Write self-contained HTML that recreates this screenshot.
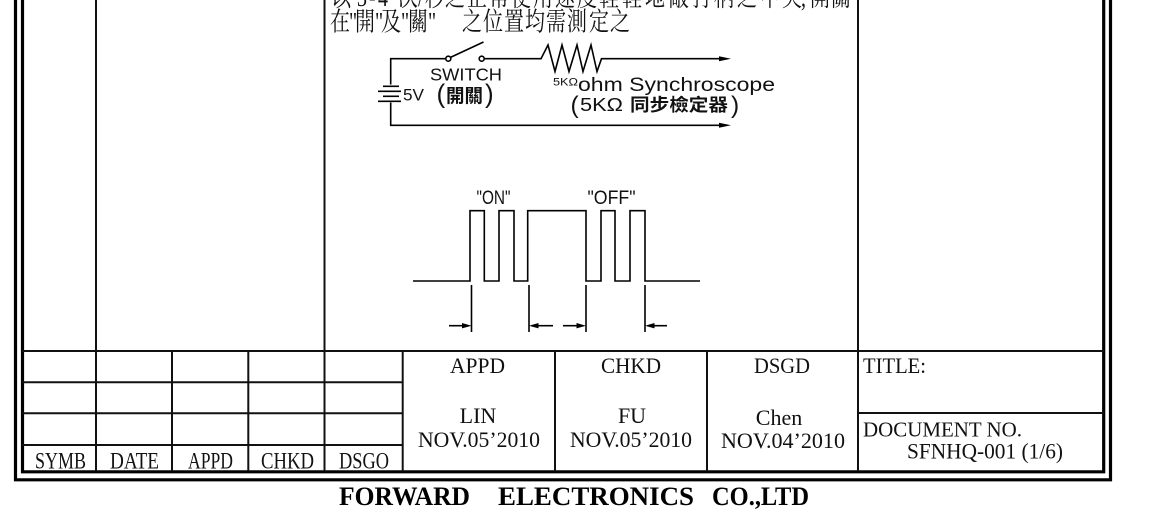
<!DOCTYPE html>
<html><head><meta charset="utf-8">
<style>
html,body{margin:0;padding:0;background:#fff;}
svg{display:block;}
</style></head><body>
<svg width="1150" height="518" viewBox="0 0 1150 518" xmlns="http://www.w3.org/2000/svg">
<rect width="1150" height="518" fill="#fff"/>

<!-- double frame -->
<g fill="none" stroke="#000">
  <path d="M15.5,-2 V479.8 H1110.5 V-2" stroke-width="3.2"/>
  <path d="M22.5,-2 V471.8 H1103.7 V-2" stroke-width="3.2"/>
</g>

<!-- grid lines -->
<g stroke="#111" stroke-width="2" fill="none">
  <line x1="96" y1="0" x2="96" y2="471"/>
  <line x1="324.5" y1="0" x2="324.5" y2="471"/>
  <line x1="858" y1="0" x2="858" y2="471"/>
  <line x1="22" y1="351" x2="1104" y2="351"/>
  <line x1="22" y1="382.3" x2="403" y2="382.3"/>
  <line x1="22" y1="413.3" x2="403" y2="413.3"/>
  <line x1="858" y1="413" x2="1104" y2="413"/>
  <line x1="22" y1="445" x2="403" y2="445"/>
  <line x1="172" y1="351" x2="172" y2="471"/>
  <line x1="248.3" y1="351" x2="248.3" y2="471"/>
  <line x1="402.7" y1="351" x2="402.7" y2="471"/>
  <line x1="555" y1="351" x2="555" y2="471"/>
  <line x1="707" y1="351" x2="707" y2="471"/>
</g>

<!-- top Chinese text -->
<g font-family="'Liberation Serif','Noto Serif CJK SC',serif" font-size="20" fill="#111">
  <text transform="translate(0,6) scale(1,1.3)" y="0"
    x="331 357 369 378 398 418 425 445 467 489 511 533 555 577 599 622 645 669 692 714 737 760 782 801 810 831">以3-4次/秒之正常使用速度輕輕地敲打柄之中央,開關</text>
  <text transform="translate(0,30.5) scale(1,1.3)" y="0"
    x="330 349 355 375 381 401 408 428 462 483 504 525 546 567 589 610">在"開"及"關"之位置均需測定之</text>
</g>

<!-- circuit -->
<g stroke="#000" stroke-width="1.6" fill="none" stroke-linejoin="miter">
  <path d="M446,58.7 H390.7 V84.5"/>
  <path d="M484.2,58.7 H541 L548,45 L555,71.5 L562,45 L569,71.5 L577,45 L583,71.5 L591,45 L597,71.5 L601.5,58.7 H722"/>
  <path d="M390.7,102.5 V125.3 H722"/>
  <circle cx="448.3" cy="58.7" r="2.5"/>
  <circle cx="481.7" cy="58.7" r="2.5"/>
  <line x1="450.5" y1="57.4" x2="483.5" y2="42"/>
  <line x1="383" y1="86.3" x2="399" y2="86.3"/>
  <line x1="378" y1="91.3" x2="401" y2="91.3"/>
  <line x1="383" y1="96.3" x2="399" y2="96.3"/>
  <line x1="378" y1="101.3" x2="401" y2="101.3"/>
</g>
<g fill="#000">
  <path d="M719,56.2 L731,58.7 L719,61.2Z"/>
  <path d="M719,122.8 L731,125.3 L719,127.8Z"/>
</g>
<g font-family="'Liberation Sans','Noto Sans CJK TC',sans-serif" fill="#111">
  <text x="430" y="80.5" font-size="17.5" textLength="72" lengthAdjust="spacingAndGlyphs">SWITCH</text>
  <text x="403" y="100.5" font-size="17" textLength="21" lengthAdjust="spacingAndGlyphs">5V</text>
  <text x="436.5" y="102.5" font-size="26">(</text>
  <text x="446" y="102.5" font-size="18.5" font-weight="bold" textLength="37" lengthAdjust="spacingAndGlyphs">開關</text>
  <text x="485" y="102.5" font-size="26">)</text>
  <text x="553" y="85.5" font-size="11" textLength="25" lengthAdjust="spacingAndGlyphs">5KΩ</text>
  <text x="578" y="91" font-size="19.5" textLength="197" lengthAdjust="spacingAndGlyphs">ohm Synchroscope</text>
  <text x="570.5" y="112.8" font-size="24.5">(</text>
  <text x="580" y="111" font-size="18.5" textLength="43" lengthAdjust="spacingAndGlyphs">5KΩ</text>
  <text x="630" y="111" font-size="17.5" font-weight="bold" textLength="98" lengthAdjust="spacingAndGlyphs">同步檢定器</text>
  <text x="731" y="112.8" font-size="24.5">)</text>
</g>

<!-- waveform -->
<g stroke="#000" stroke-width="1.6" fill="none">
  <path d="M413,281 H470 V210.7 H484.3 V281 H499 V210.7 H514 V281 H527.7 V210.7 H586 V281 H601 V210.7 H615 V281 H630 V210.7 H645 V281 H700"/>
  <line x1="471.5" y1="285" x2="471.5" y2="332"/>
  <line x1="529" y1="285" x2="529" y2="332"/>
  <line x1="586" y1="285" x2="586" y2="332"/>
  <line x1="645" y1="285" x2="645" y2="332"/>
  <line x1="449" y1="325.7" x2="464" y2="325.7"/>
  <line x1="537" y1="325.7" x2="553" y2="325.7"/>
  <line x1="563" y1="325.7" x2="578" y2="325.7"/>
  <line x1="653" y1="325.7" x2="667" y2="325.7"/>
</g>
<g fill="#000">
  <path d="M462,323 L471.5,325.7 L462,328.4Z"/>
  <path d="M538.5,323 L529,325.7 L538.5,328.4Z"/>
  <path d="M576.5,323 L586,325.7 L576.5,328.4Z"/>
  <path d="M654.5,323 L645,325.7 L654.5,328.4Z"/>
</g>
<g font-family="'Liberation Sans',sans-serif" font-size="19.5" fill="#111">
  <text x="476.5" y="204" textLength="34" lengthAdjust="spacingAndGlyphs">"ON"</text>
  <text x="587.5" y="204" textLength="48" lengthAdjust="spacingAndGlyphs">"OFF"</text>
</g>

<!-- table text -->
<g font-family="'Liberation Serif',serif" font-size="22" fill="#111">
  <text x="35" y="468.5" font-size="23" textLength="51" lengthAdjust="spacingAndGlyphs">SYMB</text>
  <text x="110" y="468.5" font-size="23" textLength="49" lengthAdjust="spacingAndGlyphs">DATE</text>
  <text x="188" y="468.5" font-size="23" textLength="45" lengthAdjust="spacingAndGlyphs">APPD</text>
  <text x="261" y="468.5" font-size="23" textLength="53" lengthAdjust="spacingAndGlyphs">CHKD</text>
  <text x="339" y="468.5" font-size="23" textLength="50" lengthAdjust="spacingAndGlyphs">DSGO</text>

  <text x="450" y="373" textLength="55" lengthAdjust="spacingAndGlyphs">APPD</text>
  <text x="601" y="373" textLength="60" lengthAdjust="spacingAndGlyphs">CHKD</text>
  <text x="754" y="373" textLength="56" lengthAdjust="spacingAndGlyphs">DSGD</text>
  <text x="863" y="373" textLength="63" lengthAdjust="spacingAndGlyphs">TITLE:</text>

  <text x="478" y="423" text-anchor="middle">LIN</text>
  <text x="418" y="447" textLength="122" lengthAdjust="spacingAndGlyphs">NOV.05’2010</text>
  <text x="632" y="423" text-anchor="middle">FU</text>
  <text x="570" y="447" textLength="122" lengthAdjust="spacingAndGlyphs">NOV.05’2010</text>
  <text x="779" y="425" text-anchor="middle">Chen</text>
  <text x="721" y="448" textLength="124" lengthAdjust="spacingAndGlyphs">NOV.04’2010</text>

  <text x="863" y="436.5" font-size="21" textLength="159" lengthAdjust="spacingAndGlyphs">DOCUMENT NO.</text>
  <text x="907" y="458.5" textLength="156" lengthAdjust="spacingAndGlyphs">SFNHQ-001 (1/6)</text>
</g>

<!-- footer -->
<g font-family="'Liberation Serif',serif" font-size="26" font-weight="bold" fill="#000">
  <text x="339" y="505" textLength="131" lengthAdjust="spacingAndGlyphs">FORWARD</text>
  <text x="498" y="505" textLength="196" lengthAdjust="spacingAndGlyphs">ELECTRONICS</text>
  <text x="712" y="505" textLength="97" lengthAdjust="spacingAndGlyphs">CO.,LTD</text>
</g>
</svg>
</body></html>
